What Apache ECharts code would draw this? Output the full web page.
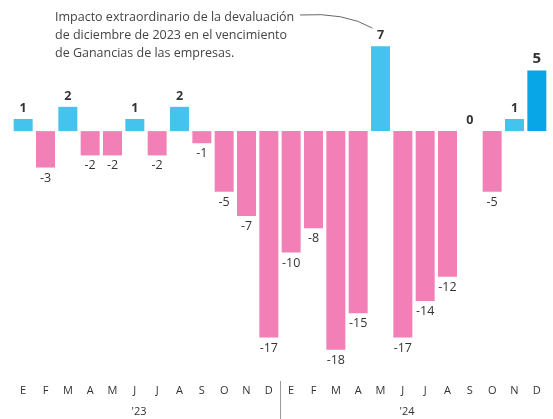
<!DOCTYPE html>
<html>
<head>
<meta charset="utf-8">
<script src="https://cdn.jsdelivr.net/npm/echarts@6/dist/echarts.min.js"></script>
<style>
  html, body { margin: 0; padding: 0; background: #fff; }
  #chart { width: 553px; height: 419px; }
</style>
</head>
<body>
<div id="chart"></div>
<script>
const months = ['E', 'F', 'M', 'A', 'M', 'J', 'J', 'A', 'S', 'O', 'N', 'D',
  'E', 'F', 'M', 'A', 'M', 'J', 'J', 'A', 'S', 'O', 'N', 'D']
const years = ["'23", "'24"]
const values = [1, -3, 2, -2, -2, 1, -2, 2, -1, -5, -7, -17,
  -10, -8, -18, -15, 7, -17, -14, -12, 0, -5, 1, 5]
const note = 'Impacto extraordinario de la devaluación\nde diciembre de 2023 en el vencimiento\nde Ganancias de las empresas.'

const font = '"Open Sans", "Noto Sans", sans-serif'
const pink = '#f27fb6'
const blue = '#45c3ef'
const darkBlue = '#08a6e6'

let myChart = echarts.init(document.getElementById('chart'))

let barData = values.map((v, i) => {
  let last = i === values.length - 1
  return {
    value: v,
    itemStyle: { color: v < 0 ? pink : (last ? darkBlue : blue) },
    label: {
      position: v < 0 ? 'bottom' : 'top',
      fontSize: last ? 15 : 12.5,
      fontWeight: last || v >= 0 ? 'bold' : 'normal'
    }
  }
})

let option = {
  animation: false,
  grid: { left: 12, right: 5, top: 34, bottom: 39 },
  xAxis: [
    {
      type: 'category',
      data: months,
      position: 'bottom',
      axisLine: { show: false, onZero: false },
      axisTick: { show: false },
      axisLabel: {
        interval: 0,
        margin: 5,
        fontSize: 11,
        color: '#333',
        fontFamily: font
      }
    },
    {
      type: 'category',
      data: years,
      position: 'bottom',
      offset: 18,
      axisLine: { show: false, onZero: false },
      axisTick: { show: false },
      axisLabel: {
        fontSize: 11,
        color: '#333',
        fontFamily: font,
        padding: [0, 14, 0, 0]
      }
    }
  ],
  yAxis: {
    type: 'value',
    min: -20.5,
    max: 8,
    show: false
  },
  series: [{
    type: 'bar',
    data: barData,
    barCategoryGap: '15%',
    label: {
      show: true,
      distance: 4,
      color: '#333',
      fontFamily: font
    }
  }]
}
myChart.setOption(option)

// separador entre años y nota con conector hacia la barra de mayo '24
let idx7 = values.indexOf(7)
let end = myChart.convertToPixel({ seriesIndex: 0 }, [idx7, 7])
let d23 = myChart.convertToPixel({ xAxisIndex: 0 }, 11)
let e24 = myChart.convertToPixel({ xAxisIndex: 0 }, 12)
let sepX = Math.round((d23 + e24) / 2) + 0.5
myChart.setOption({
  graphic: [
    {
      type: 'line',
      shape: { x1: sepX, y1: 381, x2: sepX, y2: 419 },
      style: { stroke: '#9a9a9a', lineWidth: 1 }
    },
    {
      type: 'text',
      left: 55,
      top: 8,
      style: {
        text: note,
        font: '12.5px ' + font,
        fill: '#444',
        lineHeight: 18
      }
    },
    {
      type: 'bezierCurve',
      shape: {
        x1: 300, y1: 15,
        x2: end[0] - 8, y2: end[1] - 18,
        cpx1: 345, cpy1: 12
      },
      style: { stroke: '#666', lineWidth: 1, fill: 'none' }
    }
  ]
})
</script>
</body>
</html>
